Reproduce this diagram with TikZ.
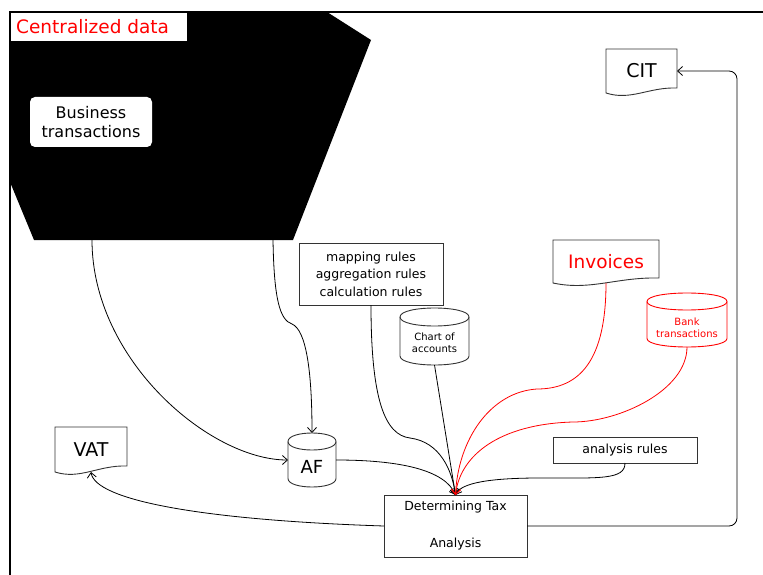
\documentclass[tikz,border=0pt]{standalone}
\usepackage{fontspec}
\setmainfont{DejaVu Sans}
\usetikzlibrary{arrows.meta}
\newcommand\fsz[2]{\fontsize{#1}{#2}\selectfont}
% document shape: x0,y0,x1,yleft,yright
\newcommand\docshape[6]{%
  \draw[shapeline,#1] (#2,#5) -- (#2,#3) -- (#4,#3) -- (#4,#6)
    .. controls ({#4-0.4*(#4-#2)},{#6-1}) and ({#2+0.35*(#4-#2)},{#5+8}) .. (#2,#5) -- cycle;}
% cylinder: x0,y0,x1,y1,dy
\newcommand\cylshape[6]{%
  \draw[shapeline,#1] (#2,{#3+#6}) .. controls (#2,{#3-#6/3}) and (#4,{#3-#6/3}) .. (#4,{#3+#6})
    -- (#4,{#5-#6}) .. controls (#4,{#5+#6/3}) and (#2,{#5+#6/3}) .. (#2,{#5-#6}) -- cycle;
  \draw[shapeline,#1] (#2,{#3+#6}) .. controls (#2,{#3+7*#6/3}) and (#4,{#3+7*#6/3}) .. (#4,{#3+#6});}
\begin{document}
\begin{tikzpicture}[x=1pt,y=-1pt,
  shapeline/.style={draw=black!80,line width=0.9pt},
  holder/.style={draw=none,inner sep=0,outer sep=0},
  boxnode/.style={draw=black!80,line width=0.9pt,inner sep=0,outer sep=0,align=center},
  lbl/.style={inner sep=0,align=center},
  conn/.style={line width=0.8pt,-{Straight Barb[length=5pt,width=9pt]}},
  redconn/.style={conn,red}]
\useasboundingbox (0,0) rectangle (763,575);
% frame
\draw[line width=2pt] (763,12) -- (10,12) -- (10,576);
% black polygon
\fill[black] (10,12) -- (327,12) -- (371,40) -- (293,240) -- (34,240) -- (10,182) -- cycle;
\fill[white] (11,13) rectangle (187,41);
\node[lbl,anchor=west,text=red,font=\fsz{18.5}{22}] (title) at (16,27) {Centralized data};
\node[holder,fill=white,rounded corners=5pt,minimum width=122pt,minimum height=50pt,
  align=center,font=\fsz{16}{19}] (bt) at (91,122) {Business\\transactions};
\coordinate (bs1) at (92,240);
\coordinate (bs2) at (273,240);
% CIT
\docshape{}{606}{49}{677}{93}{88}
\node[holder,minimum width=71pt,minimum height=44pt,font=\fsz{19}{22}] (cit) at (641.5,71) {CIT};
% Invoices
\docshape{}{553}{240}{659}{283}{278}
\node[holder,minimum width=106pt,minimum height=43pt,text=red,font=\fsz{18.5}{22}] (inv) at (606,261.5) {Invoices};
% VAT
\docshape{}{55}{427}{127}{472}{466}
\node[holder,minimum width=72pt,minimum height=45pt,font=\fsz{19}{22}] (vat) at (91,449.5) {VAT};
% mapping rules
\node[boxnode,minimum width=144pt,minimum height=62pt,font=\fsz{12.5}{17.5}] (map) at (371,274)
  {mapping rules\\aggregation rules\\calculation rules};
% chart of accounts
\cylshape{}{400}{308}{469}{365}{9}
\node[holder,minimum width=69pt,minimum height=57pt] (coa) at (434.5,336.5) {};
\node[lbl,font=\fsz{10}{12.5}] (coat) at (434.5,343) {Chart of\\accounts};
% bank transactions
\cylshape{draw=red}{647}{293}{727}{347}{8.5}
\node[holder,minimum width=80pt,minimum height=54pt] (bank) at (687,320) {};
\node[lbl,text=red,font=\fsz{10}{12.5}] (bankt) at (687,328) {Bank\\transactions};
% AF
\cylshape{}{288}{433}{336}{487}{8.5}
\node[holder,minimum width=48pt,minimum height=54pt] (af) at (312,460) {};
\node[lbl,font=\fsz{18}{22}] (aft) at (312,467) {AF};
% analysis rules
\node[boxnode,minimum width=144pt,minimum height=26pt,font=\fsz{12.5}{15}] (ana) at (625,450) {analysis rules};
% determining
\node[boxnode,minimum width=143pt,minimum height=62pt,font=\fsz{12.5}{15}] (det) at (455.5,526)
  {Determining Tax\\[22pt]Analysis};
% connectors
\draw[conn] (bs1) .. controls (92,360) and (210,460) .. (af.west);
\draw[conn] (bs2) .. controls (274,300) and (280,320) .. (292,324) .. controls (306,330) and (312,370) .. (af.north);
\draw[conn] (map.south) .. controls (371,400) and (385,435) .. (410,438) .. controls (440,442) and (452,470) .. (det.north);
\draw[conn] (coa.south) -- (det.north);
\draw[conn] (af.east) .. controls (400,460) and (445,470) .. (det.north);
\draw[conn] (ana.south) .. controls (625,480) and (600,478) .. (540,478) .. controls (480,478) and (460,485) .. (det.north);
\draw[redconn] (inv.south) .. controls (606,360) and (580,389) .. (537,389) .. controls (490,392) and (458,440) .. (det.north);
\draw[redconn] (bank.south) .. controls (687,390) and (620,422) .. (573,422) .. controls (500,424) and (460,455) .. (det.north);
\draw[conn] (det.west) .. controls (200,520) and (95,500) .. (vat.south);
\draw[conn,rounded corners=8pt] (det.east) -| (737,300) |- (cit.east);
\end{tikzpicture}
\end{document}
